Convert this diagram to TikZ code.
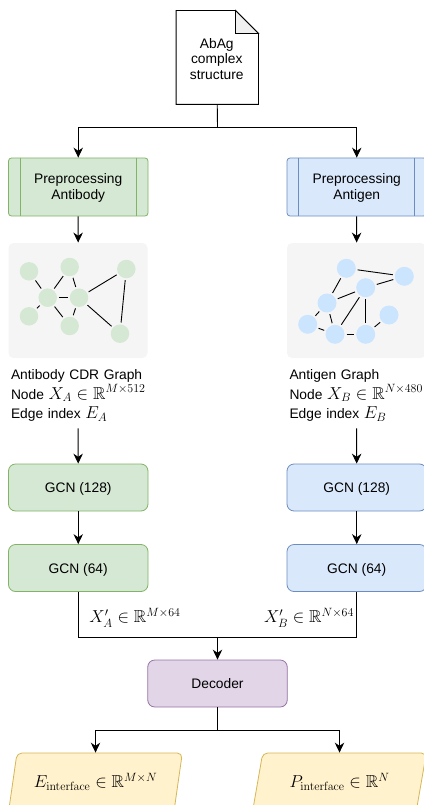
\documentclass[tikz,border=0pt]{standalone}
\usepackage[no-math]{fontspec}
\usepackage{amsmath}
\usepackage{amsfonts}
\setmainfont{Liberation Sans}
\usetikzlibrary{arrows.meta, positioning, shapes.geometric}
\definecolor{greenfill}{HTML}{D5E8D4}
\definecolor{greenline}{HTML}{82B366}
\definecolor{bluefill}{HTML}{DAE8FC}
\definecolor{blueline}{HTML}{6C8EBF}
\definecolor{purplefill}{HTML}{E1D5E7}
\definecolor{purpleline}{HTML}{9673A6}
\definecolor{yellowfill}{HTML}{FFF2CC}
\definecolor{yellowline}{HTML}{D6B656}
\definecolor{panelfill}{HTML}{F5F5F5}
\definecolor{antigendot}{HTML}{CCE5FF}
\newcommand{\bigsize}{\fontsize{17.28}{19.5}\selectfont}
\tikzset{
	>={Stealth[length=10pt,width=9.5pt]},
	boxtext/.style={font=\fontsize{13.8}{16}\selectfont, align=center, text depth=0pt},
	prebox/.style={boxtext, draw, line width=0.8pt, rounded corners=3pt, minimum width=139.5pt, minimum height=58pt},
	gcnbox/.style={boxtext, draw, line width=0.8pt, rounded corners=7pt, minimum width=139.5pt, minimum height=47pt},
	panel/.style={fill=panelfill, rounded corners=5pt, minimum width=139pt, minimum height=115pt},
	graphlabel/.style={font=\fontsize{13.8}{19.5}\selectfont, align=left, text width=134pt, minimum width=139pt, minimum height=65pt, inner sep=2.5pt},
	outbox/.style={draw=yellowline, fill=yellowfill, line width=0.8pt, rounded corners=5pt, shape=trapezium, trapezium stretches=true, trapezium left angle=69, trapezium right angle=111, minimum width=174pt, minimum height=58pt, inner sep=0pt},
	dotA/.style={circle, fill=greenfill, minimum size=18.5pt, inner sep=0pt, outer sep=2pt},
	dotB/.style={circle, fill=antigendot, minimum size=19pt, inner sep=0pt, outer sep=2pt},
	flatlabel/.style={inner sep=0pt, font=\bigsize}
}
\begin{document}
\begin{tikzpicture}[x=1pt, y=-1pt, line width=0.9pt]
	\useasboundingbox (0,0) rectangle (423,805);

	\node (Doc) at (217.25,57.5) [minimum width=81.5pt, minimum height=93pt, inner sep=0pt] {};
	\draw (Doc.north west) -- ([xshift=-23pt]Doc.north east) -- ([yshift=-23pt]Doc.north east) -- (Doc.south east) -- (Doc.south west) -- cycle;
	\draw [fill=black!6] ([xshift=-23pt]Doc.north east) -- ([yshift=-23pt]Doc.north east) -- ([xshift=-23pt,yshift=-23pt]Doc.north east) -- cycle;
	\node (DocText) at (216.75,59) [boxtext, font=\fontsize{13.8}{15.5}\selectfont] {AbAg\\complex\\structure};

	\node (PreA) at (78.25,187) [prebox, draw=greenline, fill=greenfill] {Preprocessing\\Antibody};
	\node (PreB) at (356.75,187) [prebox, draw=blueline, fill=bluefill] {Preprocessing\\Antigen};
	\draw [greenline] ([xshift=12pt]PreA.north west) -- ([xshift=12pt]PreA.south west); \draw [greenline] ([xshift=-12pt]PreA.north east) -- ([xshift=-12pt]PreA.south east);
	\draw [blueline] ([xshift=12pt]PreB.north west) -- ([xshift=12pt]PreB.south west); \draw [blueline] ([xshift=-12pt]PreB.north east) -- ([xshift=-12pt]PreB.south east);

	\node (PanelA) at (78,300.5) [panel] {};
	\node (PanelB) at (356.5,300.5) [panel] {};

	\node (A1) at (29,271.3) [dotA] {};
	\node (A2) at (69.7,267) [dotA] {};
	\node (A3) at (126.3,269) [dotA] {};
	\node (A4) at (47.7,297.7) [dotA] {};
	\node (A5) at (79,297.7) [dotA] {};
	\node (A6) at (29,316.3) [dotA] {};
	\node (A7) at (69.7,326) [dotA] {};
	\node (A8) at (120,333.7) [dotA] {};
	\draw (A1)--(A4); \draw (A2)--(A4); \draw (A2)--(A5); \draw (A3)--(A5); \draw (A3)--(A8);
	\draw (A4)--(A5); \draw (A4)--(A6); \draw (A4)--(A7); \draw (A5)--(A7); \draw (A5)--(A8);

	\node (B1) at (346.3,268.3) [dotB] {};
	\node (B2) at (404.3,276.3) [dotB] {};
	\node (B3) at (365.7,287.7) [dotB] {};
	\node (B4) at (327,303) [dotB] {};
	\node (B5) at (389,315) [dotB] {};
	\node (B6) at (307.7,324.3) [dotB] {};
	\node (B7) at (335,334.3) [dotB] {};
	\node (B8) at (365.7,334.3) [dotB] {};
	\draw (B1)--(B2); \draw (B1)--(B4); \draw (B2)--(B3); \draw (B3)--(B4); \draw (B3)--(B7); \draw (B3)--(B8);
	\draw (B4)--(B6); \draw (B4)--(B7); \draw (B6)--(B7); \draw (B7)--(B8); \draw (B8)--(B5);

	\node (LabA) at (78,395.5) [graphlabel] {Antibody CDR Graph\\\mbox{Node {\bigsize$X_A \in \mathbb{R}^{M\times 512}$}}\\Edge index {\bigsize$E_A$}};
	\node (LabB) at (356.5,395.5) [graphlabel] {Antigen Graph\\\mbox{Node {\bigsize$X_B \in \mathbb{R}^{N\times 480}$}}\\Edge index {\bigsize$E_B$}};

	\node (GcnA1) at (78.25,487.5) [gcnbox, draw=greenline, fill=greenfill] {GCN (128)};
	\node (GcnB1) at (356.75,487.5) [gcnbox, draw=blueline, fill=bluefill] {GCN (128)};
	\node (GcnA2) at (78.25,568) [gcnbox, draw=greenline, fill=greenfill] {GCN (64)};
	\node (GcnB2) at (356.75,568) [gcnbox, draw=blueline, fill=bluefill] {GCN (64)};

	\node (FeatA) at (135,618) [flatlabel] {$X'_A \in \mathbb{R}^{M\times 64}$};
	\node (FeatB) at (309,618) [flatlabel] {$X'_B \in \mathbb{R}^{N\times 64}$};

	\node (Dec) at (217.5,683.5) [gcnbox, draw=purpleline, fill=purplefill] {Decoder};

	\node (OutE) at (95.5,782) [outbox, font=\bigsize] {$E_{\mathrm{interface}} \in \mathbb{R}^{M\times N}$};
	\node (OutP) at (339.5,782) [outbox, font=\bigsize] {$P_{\mathrm{interface}} \in \mathbb{R}^{N}$};

	\coordinate (SplitTop) at (217.5,127);
	\coordinate (JoinMid) at (217.5,637);
	\coordinate (SplitOut) at (217.5,730);

	\draw (Doc.south) -- (SplitTop);
	\draw [->] (SplitTop) -| (PreA.north);
	\draw [->] (SplitTop) -| (PreB.north);
	\draw [->] (PreA) -- (PanelA);
	\draw [->] (PreB) -- (PanelB);
	\draw [->] (LabA) -- (GcnA1);
	\draw [->] (LabB) -- (GcnB1);
	\draw [->] (GcnA1) -- (GcnA2);
	\draw [->] (GcnB1) -- (GcnB2);
	\draw (GcnA2.south) |- (JoinMid);
	\draw (GcnB2.south) |- (JoinMid);
	\draw [->] (JoinMid) -- (Dec.north);
	\draw (Dec.south) -- (SplitOut);
	\draw [->] (SplitOut) -| (OutE.north);
	\draw [->] (SplitOut) -| (OutP.north);
\end{tikzpicture}
\end{document}
